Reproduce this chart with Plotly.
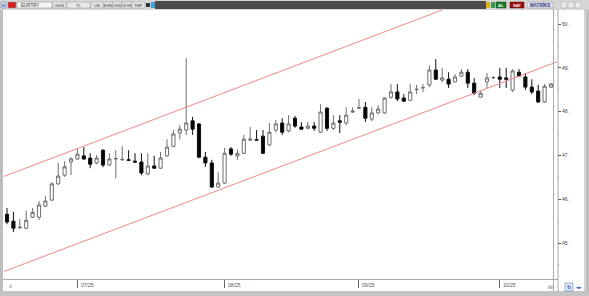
import pandas as pd
import plotly.graph_objects as go

# ---------------- data ----------------
dates = pd.bdate_range("2025-06-16", periods=86)
opens = [45.66, 45.50, 45.35, 45.34, 45.59, 45.59, 45.84, 45.98, 46.35, 46.55,
         46.85, 46.92, 46.99, 46.94, 46.83, 47.12, 46.78, 46.92, 46.90, 46.90,
         46.87, 46.85, 46.58, 46.76, 46.71, 46.99, 47.21, 47.51, 47.58, 47.79,
         47.72, 46.96, 46.83, 46.28, 46.37, 47.15, 46.99, 47.05, 47.35, 47.36,
         47.44, 47.24, 47.58, 47.74, 47.56, 47.85, 47.65, 47.62, 47.67, 47.53,
         48.08, 47.62, 47.79, 47.74, 47.99, 48.08, 48.10, 47.83, 47.97, 47.97,
         48.33, 48.45, 48.31, 48.26, 48.50, 48.54, 48.61, 48.95, 48.72, 48.74,
         48.68, 48.81, 48.90, 48.65, 48.33, 48.68, 48.77, 48.79, 48.77, 48.49,
         48.90, 48.79, 48.56, 48.47, 48.22, 48.56]
highs = [45.80, 45.71, 45.55, 45.74, 45.80, 45.96, 46.07, 46.39, 46.83, 46.87,
         46.96, 47.17, 47.19, 47.05, 47.01, 47.14, 47.05, 47.12, 47.21, 47.12,
         47.05, 47.05, 47.05, 46.99, 47.08, 47.37, 47.58, 47.69, 49.22, 47.88,
         47.74, 47.08, 46.90, 46.62, 47.17, 47.19, 47.14, 47.47, 47.65, 47.58,
         47.58, 47.74, 47.81, 47.85, 47.92, 47.90, 47.76, 47.76, 47.76, 48.17,
         48.10, 47.92, 47.92, 48.10, 48.10, 48.29, 48.22, 48.10, 48.15, 48.33,
         48.63, 48.63, 48.40, 48.63, 48.61, 48.63, 49.06, 49.20, 49.00, 48.90,
         48.86, 48.97, 48.97, 48.77, 48.47, 48.88, 48.81, 49.00, 49.00, 48.97,
         48.97, 48.88, 48.74, 48.61, 48.63, 48.65]
lows = [45.43, 45.25, 45.32, 45.32, 45.57, 45.53, 45.82, 45.96, 46.33, 46.51,
        46.55, 46.90, 46.90, 46.71, 46.80, 46.73, 46.76, 46.48, 46.88, 46.88,
        46.83, 46.55, 46.55, 46.69, 46.69, 46.97, 47.19, 47.37, 47.47, 47.47,
        46.94, 46.74, 46.26, 46.26, 46.35, 46.99, 46.90, 47.03, 47.33, 47.34,
        47.03, 47.21, 47.53, 47.47, 47.53, 47.63, 47.58, 47.60, 47.56, 47.51,
        47.56, 47.58, 47.51, 47.69, 47.97, 48.06, 47.76, 47.78, 47.95, 47.95,
        48.29, 48.24, 48.22, 48.24, 48.40, 48.45, 48.56, 48.72, 48.67, 48.54,
        48.67, 48.79, 48.54, 48.38, 48.33, 48.54, 48.74, 48.54, 48.54, 48.45,
        48.79, 48.49, 48.40, 48.20, 48.20, 48.54]
closes = [45.48, 45.34, 45.36, 45.52, 45.70, 45.87, 45.96, 46.35, 46.53, 46.74,
          46.92, 47.03, 46.92, 46.80, 46.94, 46.78, 46.92, 46.93, 46.91, 46.89,
          46.85, 46.60, 46.76, 46.71, 46.94, 47.19, 47.49, 47.60, 47.74, 47.60,
          46.96, 46.83, 46.28, 46.37, 47.05, 47.03, 47.05, 47.37, 47.37, 47.35,
          47.05, 47.53, 47.72, 47.53, 47.72, 47.67, 47.60, 47.67, 47.62, 47.99,
          47.62, 47.74, 47.76, 47.92, 48.01, 48.09, 47.85, 47.97, 48.06, 48.31,
          48.45, 48.29, 48.24, 48.45, 48.51, 48.55, 48.95, 48.74, 48.77, 48.63,
          48.79, 48.90, 48.65, 48.42, 48.42, 48.77, 48.78, 48.74, 48.74, 48.93,
          48.81, 48.56, 48.45, 48.22, 48.58, 48.63]

# trend channel: values at first / last anchor index
channel_x = [-0.5, 86.0]
channel_lower = [44.35, 49.14]
channel_upper = [46.52, 51.32]

y_tick_vals = [45, 46, 47, 48, 49, 50]
y_tick_text = ["45.", "46.", "47.", "48.", "49.", "50."]

x_idx = list(range(len(dates)))
month_idx = [i for i in x_idx if i > 0 and dates[i].month != dates[i - 1].month]
month_text = [dates[i].strftime("%m/%y") for i in month_idx]

# ---------------- figure ----------------
W, H = 589, 296
L, R, T, B = 4, 32, 10, 17
pw, ph = W - L - R, H - T - B


def px(x):
    return (x - L) / pw


def py(y):
    return (H - B - y) / ph


fig = go.Figure()
fig.add_trace(go.Candlestick(
    x=x_idx, open=opens, high=highs, low=lows, close=closes,
    increasing=dict(line=dict(color="#6e6e6e", width=1), fillcolor="#ffffff"),
    decreasing=dict(line=dict(color="#111111", width=1), fillcolor="#000000"),
    whiskerwidth=0, showlegend=False, hoverinfo="skip",
))
for vals in (channel_lower, channel_upper):
    fig.add_trace(go.Scatter(x=channel_x, y=vals, mode="lines",
                             line=dict(color="#f08a8a", width=1),
                             showlegend=False, hoverinfo="skip"))

shapes = []
annos = []
font = "Liberation Sans, Arial, sans-serif"


def rect(x0, y0, x1, y1, fill, line=None, lw=0):
    shapes.append(dict(type="rect", xref="paper", yref="paper",
                       x0=px(x0), x1=px(x1), y0=py(y1), y1=py(y0),
                       fillcolor=fill, line=dict(color=line or fill, width=lw),
                       layer="above"))


def vline(x, y0, y1, color, w=1):
    shapes.append(dict(type="line", xref="paper", yref="paper",
                       x0=px(x), x1=px(x), y0=py(y0), y1=py(y1),
                       line=dict(color=color, width=w), layer="above"))


def hline(y, x0, x1, color, w=1):
    shapes.append(dict(type="line", xref="paper", yref="paper",
                       x0=px(x0), x1=px(x1), y0=py(y), y1=py(y),
                       line=dict(color=color, width=w), layer="above"))


def text(x, y, s, size=5, color="#333", anchor="left", bold=False):
    annos.append(dict(xref="paper", yref="paper", x=px(x), y=py(y),
                      text=("<b>%s</b>" % s) if bold else s, showarrow=False,
                      xanchor=anchor, yanchor="middle",
                      font=dict(size=size, color=color, family=font)))


# outer frame
rect(0, 0, 589, 3, "#c9c9c9")
rect(0, 0, 3, 296, "#bdbdbd")
rect(586, 0, 589, 296, "#bdbdbd")
rect(0, 291, 589, 296, "#c4c4c4")
# toolbar
rect(0, 0, 589, 10, "#d6d6d6")
rect(155, 1, 486, 9, "#4b4b4b")
rect(1, 2, 6, 8, "#dfe6f4", "#5570a8", 0.5)
text(3.5, 5, "H", 4, "#2a3f8a", "center", True)
rect(8, 2, 16, 8, "#d22020", "#999", 0.5)
rect(17, 2, 52, 8, "#f4f4f4", "#888", 0.5)
text(19, 5, "EURTRY", 4.5, "#333")
for x0, x1, lab in [(53, 66, "GÜN"), (67, 90, "TL"), (91, 103, "LİN"),
                    (104, 113, "KHN"), (113, 122, "SVD"), (122, 132, "SYH"),
                    (132, 145, "TMP")]:
    rect(x0, 2, x1, 8, "#e8e8e8", "#999", 0.5)
    text((x0 + x1) / 2, 5, lab, 4, "#333", "center")
rect(146, 3, 150, 7, "#333333")
rect(151, 2, 155, 8, "#3aa0e0")
rect(486, 2, 490, 8, "#e0b020")
rect(491, 2, 495, 8, "#3a9a4a")
rect(496, 2, 506, 8, "#1b7a2a", "#0d4d15", 0.5)
text(501, 5, "AL", 4, "#ffffff", "center", True)
rect(510, 2, 524, 8, "#9a1010", "#5a0808", 0.5)
text(517, 5, "SAT", 4, "#ffffff", "center", True)
rect(527, 2, 553, 8, "#e2e2ea", "#999", 0.5)
text(540, 5, "MATRİKS", 4.5, "#2a3a8a", "center", True)
for bx in (561, 568, 575):
    rect(bx, 2, bx + 6, 8, "#e8e8e8", "#aaa", 0.5)
# axis strip separators
vline(553.5, 9, 291, "#a8a8a8")
vline(558, 9, 291, "#a8a8a8")
vline(585, 9, 291, "#a8a8a8")
hline(279.5, 3, 558, "#a8a8a8")
# bottom icons
text(7, 286, "ıl", 5, "#555")
text(550, 287, "ılıl", 4.5, "#444", "center")
rect(565, 283, 573, 291, "#dfe6f4", "#5570a8", 0.5)
text(569, 287, "↻", 5, "#2a50b0", "center", True)
text(579, 287, "◂▸", 4.5, "#2a50b0", "center")

# x tick labels
for i, lab in zip(month_idx, month_text):
    annos.append(dict(xref="x", yref="paper", x=i + 0.2, y=py(285),
                      text=lab, showarrow=False, xanchor="left",
                      yanchor="middle",
                      font=dict(size=5, color="#555", family=font)))

fig.update_layout(
    width=W, height=H,
    margin=dict(l=L, r=R, t=T, b=B, pad=0),
    paper_bgcolor="#ffffff", plot_bgcolor="#ffffff",
    shapes=shapes, annotations=annos,
    xaxis=dict(range=[-0.47, 85.94], rangeslider=dict(visible=False),
               showgrid=False, zeroline=False, showline=False,
               tickmode="array", tickvals=month_idx, ticktext=[""] * len(month_idx),
               ticks="outside", ticklen=8, tickcolor="#666", tickwidth=1,
               fixedrange=True),
    yaxis=dict(range=[44.18, 50.32], side="right", showgrid=False,
               zeroline=False, showline=False,
               tickmode="array", tickvals=y_tick_vals, ticktext=y_tick_text,
               ticks="outside", ticklen=3, tickcolor="#555", tickwidth=1,
               tickfont=dict(size=5, color="#444", family=font),
               minor=dict(tickmode="array", tickvals=[44.5, 45.5, 46.5, 47.5, 48.5, 49.5],
                          ticks="outside", ticklen=1, tickcolor="#777"),
               fixedrange=True),
)

fig.write_html("out.html")
